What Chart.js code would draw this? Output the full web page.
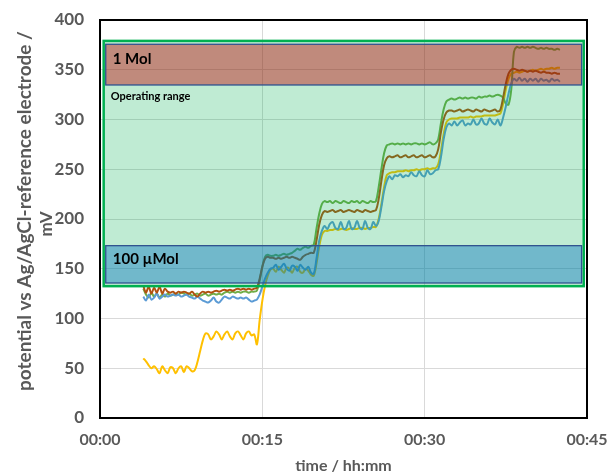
<!DOCTYPE html>
<html>
<head>
<meta charset="utf-8">
<title>potential vs time</title>
<script src="https://cdn.jsdelivr.net/npm/chart.js@4.4.1/dist/chart.umd.min.js"></script>
<style>
  html, body { margin: 0; padding: 0; background: #fff; }
  #wrap { width: 611px; height: 475px; }
</style>
</head>
<body>
<div id="wrap"><canvas id="potChart" width="611" height="475"></canvas></div>
<script>
// sample times in minutes
const minutes = [
  4, 4.25, 4.5, 4.75, 5, 5.25, 5.5, 5.75, 6, 6.25, 6.5, 6.75,
  7, 7.25, 7.5, 7.75, 8, 8.25, 8.5, 8.75, 9, 9.25, 9.5, 9.75,
  10, 10.25, 10.5, 10.75, 11, 11.25, 11.5, 11.75, 12, 12.25, 12.5, 12.75,
  13, 13.25, 13.5, 13.75, 14, 14.25, 14.5, 14.75, 15, 15.25, 15.5, 15.75,
  16, 16.25, 16.5, 16.75, 17, 17.25, 17.5, 17.75, 18, 18.25, 18.5, 18.75,
  19, 19.25, 19.5, 19.75, 20, 20.25, 20.5, 20.75, 21, 21.25, 21.5, 21.75,
  22, 22.25, 22.5, 22.75, 23, 23.25, 23.5, 23.75, 24, 24.25, 24.5, 24.75,
  25, 25.25, 25.5, 25.75, 26, 26.25, 26.5, 26.75, 27, 27.25, 27.5, 27.75,
  28, 28.25, 28.5, 28.75, 29, 29.25, 29.5, 29.75, 30, 30.25, 30.5, 30.75,
  31, 31.25, 31.5, 31.75, 32, 32.25, 32.5, 32.75, 33, 33.25, 33.5, 33.75,
  34, 34.25, 34.5, 34.75, 35, 35.25, 35.5, 35.75, 36, 36.25, 36.5, 36.75,
  37, 37.25, 37.5, 37.75, 38, 38.25, 38.5, 38.75, 39, 39.25, 39.5, 39.75,
  40, 40.25, 40.5, 40.75, 41, 41.25, 41.5, 41.75, 42, 42.25, 42.5
];

// potential in mV
const yellowMv = [
  60, 57, 53, 50, 52, 49, 45, 52, 48, 45, 51, 50,
  45, 50, 52, 46, 52, 50, 47, 48, 56, 67, 78, 85,
  84, 79, 82, 87, 84, 79, 84, 87, 82, 79, 85, 87,
  83, 79, 85, 87, 83, 84, 74, 98, 118, 133, 143, 149,
  150, 147, 152, 149, 146, 151, 150, 146, 151, 152, 147, 146,
  150, 148, 144, 143, 155, 172, 184, 188, 188, 189, 189, 190,
  189, 190, 190, 189, 190, 191, 190, 190, 191, 191, 190, 191,
  191, 192, 192, 200, 215, 232, 244, 246, 247, 247, 248, 248,
  248, 249, 248, 249, 249, 250, 249, 250, 250, 251, 250, 251,
  251, 255, 268, 285, 297, 300, 301, 301, 301, 302, 302, 302,
  302, 303, 302, 303, 303, 303, 304, 304, 304, 304, 304, 305,
  306, 316, 330, 341, 346, 347, 348, 347, 348, 349, 348, 349,
  350, 349, 350, 351, 350, 351, 351, 352, 351, 352, 352
];

const blueMv = [
  122, 118, 124, 119, 121, 125, 120, 122, 124, 122, 123, 124,
  123, 124, 122, 123, 124, 122, 121, 120, 122, 120, 118, 117,
  116, 118, 121, 117, 116, 119, 122, 121, 120, 122, 121, 120,
  121, 120, 121, 119, 117, 118, 119, 124, 132, 140, 146, 150,
  151, 154, 149, 152, 155, 150, 148, 153, 152, 148, 154, 151,
  149, 152, 146, 145, 160, 178, 188, 193, 190, 195, 197, 191,
  190, 197, 190, 191, 198, 190, 191, 198, 191, 190, 198, 191,
  190, 197, 193, 198, 212, 228, 238, 243, 240, 244, 243, 245,
  242, 244, 243, 247, 244, 243, 248, 244, 243, 249, 245, 246,
  249, 250, 262, 280, 292, 296, 294, 298, 294, 297, 299, 294,
  296, 295, 300, 295, 296, 301, 296, 295, 301, 297, 295, 300,
  294, 302, 313, 326, 336, 341, 339, 342, 339, 341, 338, 341,
  339, 341, 338, 341, 339, 340, 338, 341, 339, 340, 338
];

const greenMv = [
  130, 124, 121, 126, 122, 125, 121, 124, 122, 125, 123, 124,
  125, 124, 126, 125, 124, 125, 123, 124, 125, 123, 124, 125,
  123, 124, 125, 124, 125, 124, 126, 127, 126, 127, 126, 127,
  126, 127, 127, 126, 127, 127, 128, 138, 152, 162, 164, 163,
  163, 164, 163, 164, 165, 164, 165, 166, 168, 170, 169, 171,
  172, 171, 173, 174, 190, 205, 215, 218, 217, 218, 216, 218,
  217, 216, 218, 217, 216, 218, 217, 218, 216, 218, 217, 216,
  218, 217, 218, 232, 250, 266, 274, 275, 276, 275, 276, 275,
  276, 275, 276, 275, 276, 276, 275, 276, 275, 276, 277, 275,
  276, 280, 296, 310, 318, 320, 321, 320, 321, 322, 321, 322,
  321, 322, 322, 321, 323, 322, 323, 323, 324, 323, 324, 325,
  324, 322, 316, 315, 330, 368, 373, 372, 373, 372, 373, 372,
  373, 372, 371, 372, 371, 372, 371, 371, 370, 371, 370
];

const brownMv = [
  133, 126, 132, 125, 131, 126, 132, 125, 130, 127, 126, 127,
  125, 127, 126, 127, 126, 125, 127, 124, 122, 125, 127, 126,
  127, 126, 127, 128, 127, 128, 129, 128, 129, 128, 129, 130,
  129, 130, 129, 130, 129, 130, 131, 140, 152, 160, 162, 161,
  161, 160, 161, 160, 161, 162, 161, 162, 161, 160, 159, 162,
  164, 165, 166, 166, 178, 194, 204, 208, 207, 208, 209, 207,
  208, 209, 207, 208, 209, 208, 207, 209, 208, 207, 209, 208,
  207, 208, 209, 220, 238, 254, 261, 263, 262, 263, 264, 262,
  263, 264, 262, 263, 264, 262, 263, 264, 262, 263, 264, 262,
  263, 270, 287, 300, 307, 309, 309, 308, 309, 310, 308, 309,
  310, 309, 308, 310, 309, 308, 310, 309, 308, 309, 310, 308,
  310, 322, 336, 346, 350, 351, 350, 349, 350, 349, 348, 349,
  348, 349, 348, 347, 348, 347, 347, 346, 347, 346, 346
];

const timeTicks = [0, 15, 30, 45];

// shaded ranges (minutes, mV)
const rangeTimes = [0.34, 44.7];
const bandTimes = [0.53, 44.5];
const operatingRange = [132.5, 379];
const oneMolBand = [334.7, 375.6];
const microMolBand = [135.7, 173.2];

const FONT = "Lato, 'Open Sans', sans-serif";
const GREY = "#595959";

function toPoints(values) {
  return values.map((v, i) => ({ x: minutes[i], y: v }));
}

function fmtTime(m) {
  const h = Math.floor(m / 60);
  const mm = Math.round(m % 60);
  return String(h).padStart(2, "0") + ":" + String(mm).padStart(2, "0");
}

// ranges drawn over the lines, like the shapes in the original sheet
const rangePlugin = {
  id: "ranges",
  afterDatasetsDraw(chart) {
    const { ctx, chartArea } = chart;
    const xs = chart.scales.x;
    const ys = chart.scales.y;

    const box = (t, v, fill, stroke, lw) => {
      const x1 = xs.getPixelForValue(t[0]);
      const x2 = xs.getPixelForValue(t[1]);
      const y1 = ys.getPixelForValue(v[1]);
      const y2 = ys.getPixelForValue(v[0]);
      ctx.fillStyle = fill;
      ctx.fillRect(x1, y1, x2 - x1, y2 - y1);
      ctx.strokeStyle = stroke;
      ctx.lineWidth = lw;
      ctx.strokeRect(x1, y1, x2 - x1, y2 - y1);
      return { x1, y1, x2, y2 };
    };

    ctx.save();
    box(rangeTimes, operatingRange, "rgba(0,176,80,0.25)", "#00b050", 2.5);
    const mol = box(bandTimes, oneMolBand, "rgba(192,0,0,0.41)", "#2f528f", 1.3);
    const umol = box(bandTimes, microMolBand, "rgba(0,112,192,0.41)", "#2f528f", 1.3);

    ctx.fillStyle = "#000";
    ctx.textAlign = "left";
    ctx.textBaseline = "alphabetic";
    ctx.font = "bold 15px " + FONT;
    ctx.fillText("1 Mol", mol.x1 + 7, mol.y1 + 20);
    ctx.fillText("100 \u00b5Mol", umol.x1 + 7, umol.y1 + 18);
    ctx.font = "bold 11px " + FONT;
    ctx.fillText("Operating range", mol.x1 + 5, mol.y2 + 15);

    // plot frame
    ctx.strokeStyle = "#000";
    ctx.lineWidth = 2;
    ctx.strokeRect(chartArea.left, chartArea.top, chartArea.right - chartArea.left, chartArea.bottom - chartArea.top);

    // y axis title, two lines as in the sheet; first line stretched to the sheet's length
    const line1 = "potential vs Ag/AgCl-reference electrode /";
    ctx.fillStyle = GREY;
    ctx.font = "bold 17px " + FONT;
    const w = ctx.measureText(line1).width;
    const size = Math.max(15, Math.min(19, 17 * 370 / w));
    ctx.font = "bold " + size.toFixed(1) + "px " + FONT;
    ctx.textAlign = "center";
    ctx.translate(31, 211);
    ctx.rotate(-Math.PI / 2);
    ctx.fillText(line1, 0, 0);
    ctx.font = "bold 17px " + FONT;
    ctx.fillText("mV", -13, 20.5);
    ctx.restore();
  }
};

const lineStyle = { borderWidth: 2, pointRadius: 0, tension: 0.35, fill: false };

new Chart(document.querySelector("#potChart"), {
  type: "line",
  data: {
    datasets: [
      { label: "brown", data: toPoints(brownMv), borderColor: "#b0500f", ...lineStyle },
      { label: "blue", data: toPoints(blueMv), borderColor: "#5b9bd5", ...lineStyle },
      { label: "green", data: toPoints(greenMv), borderColor: "#70ad47", ...lineStyle },
      { label: "yellow", data: toPoints(yellowMv), borderColor: "#ffc000", ...lineStyle },
    ],
  },
  options: {
    responsive: false,
    animation: false,
    devicePixelRatio: 1,
    layout: { padding: { top: 20, right: 24, left: 0, bottom: 0 } },
    plugins: {
      legend: { display: false },
      tooltip: { enabled: false },
      title: { display: false },
    },
    scales: {
      x: {
        type: "linear",
        min: 0,
        max: 45,
        afterBuildTicks(scale) {
          scale.ticks = timeTicks.map((v) => ({ value: v }));
        },
        afterFit(scale) {
          scale.height = 57;
          scale.paddingLeft = 0;
          scale.paddingRight = 0;
        },
        grid: { color: "#d9d9d9", lineWidth: 1, drawTicks: false },
        border: { display: false },
        ticks: {
          padding: 12,
          color: GREY,
          font: { family: FONT, size: 16, weight: "bold" },
          callback: (v) => fmtTime(v),
        },
        title: {
          display: true,
          text: "time / hh:mm",
          color: GREY,
          font: { family: FONT, size: 16, weight: "bold" },
          padding: { top: 0, bottom: 0 },
        },
      },
      y: {
        min: 0,
        max: 400,
        afterFit(scale) {
          scale.width = 100;
          scale.paddingTop = 0;
          scale.paddingBottom = 0;
        },
        grid: { color: "#d9d9d9", lineWidth: 1, drawTicks: false },
        border: { display: false },
        ticks: {
          stepSize: 50,
          padding: 16,
          color: GREY,
          font: { family: FONT, size: 17, weight: "bold" },
        },
        title: { display: false },
      },
    },
  },
  plugins: [rangePlugin],
});
</script>
</body>
</html>
